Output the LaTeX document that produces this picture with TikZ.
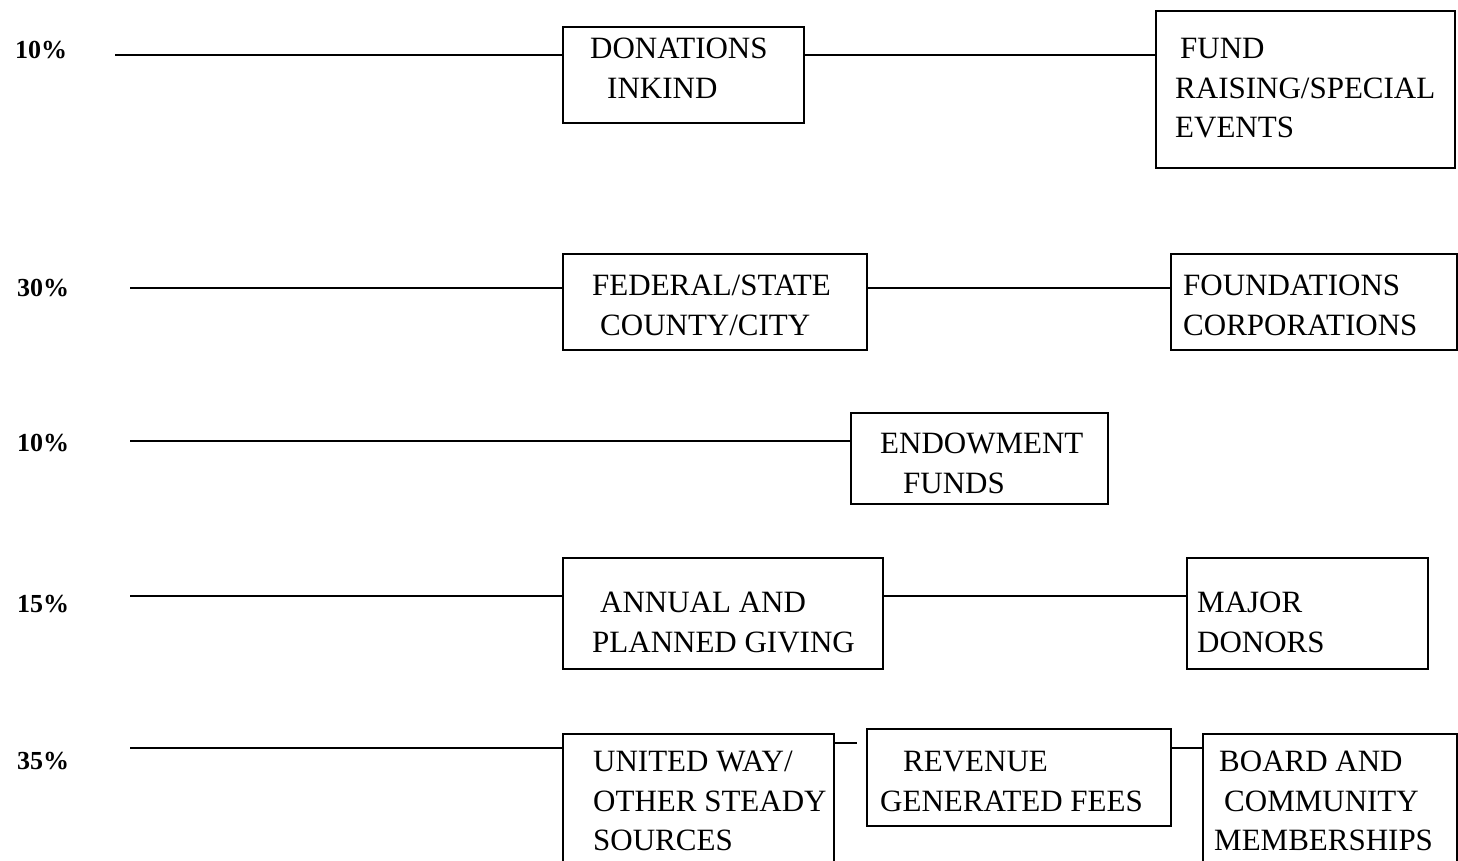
\documentclass[tikz,border=0pt]{standalone}
\usepackage{fontspec}
\setmainfont{Liberation Serif}
\begin{document}
\begin{tikzpicture}[x=1pt,y=-1pt,
  box/.style={draw, line width=1.8pt, rectangle, inner sep=0pt, anchor=north west},
  txt/.style={anchor=north west, inner sep=0pt, align=left, font=\fontsize{31}{39.5}\selectfont},
  pct/.style={anchor=west, inner sep=0pt, font=\fontsize{26}{30}\selectfont\bfseries},
  conn/.style={line width=1.8pt}]
\fill[white] (0,0) rectangle (1458,860);
\useasboundingbox (0,0) rectangle (1458,860);

% boxes
\node[box, minimum width=241pt, minimum height=96pt]  (don)  at (562,26)   {};
\node[box, minimum width=299pt, minimum height=157pt] (fund) at (1155,10)  {};
\node[box, minimum width=304pt, minimum height=96pt]  (fed)  at (562,253)  {};
\node[box, minimum width=286pt, minimum height=96pt]  (foun) at (1170,253) {};
\node[box, minimum width=257pt, minimum height=91pt]  (endo) at (850,412)  {};
\node[box, minimum width=320pt, minimum height=111pt] (ann)  at (562,557)  {};
\node[box, minimum width=241pt, minimum height=111pt] (maj)  at (1186,557) {};
\node[box, minimum width=271pt, minimum height=140pt] (uw)   at (562,733)  {};
\node[box, minimum width=304pt, minimum height=97pt]  (rev)  at (866,728)  {};
\node[box, minimum width=254pt, minimum height=140pt] (brd)  at (1202,733) {};

% texts
\node[txt] (tdon)  at (590,38)  {DONATIONS\\\hspace*{17pt}INKIND};
\node[txt] (tfund) at (1175,38) {\hspace*{5pt}FUND\\RAISING/SPECIAL\\EVENTS};
\node[txt] (tfed)  at (592,275) {FEDERAL/STATE\\\hspace*{8pt}COUNTY/CITY};
\node[txt] (tfoun) at (1183,275) {FOUNDATIONS\\CORPORATIONS};
\node[txt] (tendo) at (880,433) {ENDOWMENT\\\hspace*{23pt}FUNDS};
\node[txt] (tann)  at (592,592) {\hspace*{8pt}ANNUAL AND\\PLANNED GIVING};
\node[txt] (tmaj)  at (1197,592) {MAJOR\\DONORS};
\node[txt] (tuw)   at (593,751) {UNITED WAY/\\OTHER STEADY\\SOURCES};
\node[txt] (trev)  at (880,751) {\hspace*{23pt}REVENUE\\GENERATED FEES};
\node[txt] (tbrd)  at (1214,751) {\hspace*{5pt}BOARD AND\\\hspace*{10pt}COMMUNITY\\MEMBERSHIPS};

% percentages
\node[pct] (p1) at (15,50)  {10\%};
\node[pct] (p2) at (17,288) {30\%};
\node[pct] (p3) at (17,443) {10\%};
\node[pct] (p4) at (17,604) {15\%};
\node[pct] (p5) at (17,761) {35\%};

% line starts
\coordinate (s1) at (115,55);
\coordinate (s2) at (130,288);
\coordinate (s3) at (130,441);
\coordinate (s4) at (130,596);
\coordinate (s5) at (130,748);
\coordinate (s5b) at (857,743);

% connectors
\draw[conn] (s1) -- (s1 -| don.west);
\draw[conn] (s1 -| don.east) -- (s1 -| fund.west);
\draw[conn] (s2) -- (s2 -| fed.west);
\draw[conn] (s2 -| fed.east) -- (s2 -| foun.west);
\draw[conn] (s3) -- (s3 -| endo.west);
\draw[conn] (s4) -- (s4 -| ann.west);
\draw[conn] (s4 -| ann.east) -- (s4 -| maj.west);
\draw[conn] (s5) -- (s5 -| uw.west);
\draw[conn] (s5b -| uw.east) -- (s5b);
\draw[conn] (s5 -| rev.east) -- (s5 -| brd.west);
\end{tikzpicture}
\end{document}
